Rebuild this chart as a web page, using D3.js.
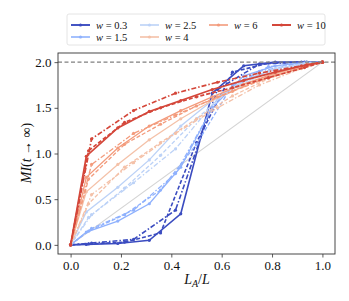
<!DOCTYPE html>
<html><head><meta charset="utf-8">
<script src="https://cdn.jsdelivr.net/npm/d3@7"></script>
<style>body{margin:0;background:#fff}svg{display:block}
svg text{font-family:"Liberation Serif","DejaVu Serif",serif !important;}</style>
</head><body>
<script>
const W = 349, H = 301;
const xTicks = [0, 0.2, 0.4, 0.6, 0.8, 1.0];
const yTicks = [0, 0.5, 1.0, 1.5, 2.0];
const wLabels = ["0.3", "1.5", "2.5", "4", "6", "10"];
const wColors = ["#3b4cc0", "#8fb1fd", "#bcd2f7", "#f4c1a8", "#f39b7c", "#d4473a"];
const wWidths = [1.6, 1.3, 1.3, 1.3, 1.3, 1.7];
// x positions for three system sizes
const xL16 = [0, 1/16, 3/16, 5/16, 7/16, 9/16, 11/16, 13/16, 15/16, 1];
const xL14 = [0, 1/14, 3/14, 5/14, 7/14, 9/14, 11/14, 13/14, 1];
const xL12 = [0, 1/12, 3/12, 5/12, 7/12, 9/12, 11/12, 1];
// MI values, solid (L16)
const yW03_16 = [0, 0.005, 0.015, 0.05, 0.34, 1.66, 1.96, 2.0, 2.0, 2.0];
const yW15_16 = [0, 0.14, 0.26, 0.45, 0.85, 1.5, 1.85, 1.96, 2.0, 2.0];
const yW25_16 = [0, 0.36, 0.63, 0.93, 1.3, 1.58, 1.8, 1.93, 1.99, 2.0];
const yW4_16  = [0, 0.58, 0.88, 1.15, 1.38, 1.58, 1.74, 1.87, 1.97, 2.0];
const yW6_16  = [0, 0.74, 1.06, 1.3, 1.47, 1.62, 1.76, 1.88, 1.97, 2.0];
const yW10_16 = [0, 0.97, 1.28, 1.46, 1.58, 1.70, 1.80, 1.89, 1.97, 2.0];
// dashed (L14)
const yW03_14 = [0, 0.01, 0.03, 0.13, 1.12, 1.89, 1.99, 2.0, 2.0];
const yW15_14 = [0, 0.15, 0.33, 0.6, 1.1, 1.75, 1.95, 1.99, 2.0];
const yW25_14 = [0, 0.3, 0.62, 0.98, 1.38, 1.72, 1.9, 1.98, 2.0];
const yW4_14  = [0, 0.45, 0.85, 1.12, 1.38, 1.63, 1.82, 1.95, 2.0];
const yW6_14  = [0, 0.72, 1.1, 1.32, 1.52, 1.68, 1.83, 1.95, 2.0];
const yW10_14 = [0, 1.03, 1.34, 1.5, 1.62, 1.72, 1.83, 1.94, 2.0];
// dash-dot (L12)
const yW03_12 = [0, 0.02, 0.06, 0.38, 1.7, 1.98, 2.0, 2.0];
const yW15_12 = [0, 0.18, 0.38, 0.78, 1.6, 1.9, 1.99, 2.0];
const yW25_12 = [0, 0.33, 0.68, 1.05, 1.6, 1.85, 1.97, 2.0];
const yW4_12  = [0, 0.55, 0.9, 1.22, 1.5, 1.75, 1.93, 2.0];
const yW6_12  = [0, 0.88, 1.22, 1.42, 1.62, 1.8, 1.94, 2.0];
const yW10_12 = [0, 1.16, 1.47, 1.66, 1.78, 1.88, 1.96, 2.0];

const solid = [yW03_16, yW15_16, yW25_16, yW4_16, yW6_16, yW10_16];
const dashed = [yW03_14, yW15_14, yW25_14, yW4_14, yW6_14, yW10_14];
const dashdot = [yW03_12, yW15_12, yW25_12, yW4_12, yW6_12, yW10_12];

const svg = d3.select("body").append("svg").attr("width", W).attr("height", H);
const L = 58, R = 335, T = 53, B = 254;
const x = d3.scaleLinear().domain([-0.05, 1.05]).range([L, R]);
const y = d3.scaleLinear().domain([-0.1, 2.1]).range([B, T]);

svg.append("defs").append("clipPath").attr("id", "clip")
  .append("rect").attr("x", L).attr("y", T).attr("width", R - L).attr("height", B - T);
const plot = svg.append("g").attr("clip-path", "url(#clip)");

// diagonal
plot.append("line").attr("x1", x(0)).attr("y1", y(0)).attr("x2", x(1)).attr("y2", y(2))
  .attr("stroke", "#d3d3d3").attr("stroke-width", 1.2);

const line = d3.line().x(d => x(d[0])).y(d => y(d[1]));
const styles = [
  {xs: xL16, ys: solid, dash: null},
  {xs: xL14, ys: dashed, dash: "4,2"},
  {xs: xL12, ys: dashdot, dash: "5,2,1.5,2"}
];
wLabels.forEach((lab, i) => {
  styles.forEach(s => {
    const pts = s.xs.map((xv, k) => [xv, s.ys[i][k]]);
    plot.append("path").attr("d", line(pts)).attr("fill", "none")
      .attr("stroke", wColors[i]).attr("stroke-width", wWidths[i])
      .attr("stroke-dasharray", s.dash);
    plot.selectAll(null).data(pts).enter().append("circle")
      .attr("cx", d => x(d[0])).attr("cy", d => y(d[1])).attr("r", 1.6)
      .attr("fill", wColors[i]);
  });
});
// horizontal dashed at 2
plot.append("line").attr("x1", L).attr("x2", R).attr("y1", y(2)).attr("y2", y(2))
  .attr("stroke", "#808080").attr("stroke-width", 1.1).attr("stroke-dasharray", "4,2.5");

// frame
svg.append("rect").attr("x", L).attr("y", T).attr("width", R - L).attr("height", B - T)
  .attr("fill", "none").attr("stroke", "#333").attr("stroke-width", 0.9);

// axes
const xa = svg.append("g").attr("transform", `translate(0,${B})`)
  .call(d3.axisBottom(x).tickValues(xTicks).tickFormat(d3.format(".1f")).tickSize(3.5).tickPadding(3));
const ya = svg.append("g").attr("transform", `translate(${L},0)`)
  .call(d3.axisLeft(y).tickValues(yTicks).tickFormat(d3.format(".1f")).tickSize(3.5).tickPadding(3));
[xa, ya].forEach(a => {
  a.attr("font-family", null);
  a.select(".domain").remove();
  a.selectAll("line").attr("stroke", "#333").attr("stroke-width", 0.8);
  a.selectAll("text").attr("font-size", 13).attr("fill", "#111");
});

// axis labels
const xl = svg.append("text").attr("x", 197).attr("y", 284).attr("text-anchor", "middle")
  .attr("font-size", 14).attr("fill", "#111");
xl.append("tspan").attr("font-style", "italic").text("L");
xl.append("tspan").attr("font-style", "italic").attr("font-size", 10).attr("dy", 3).text("A");
xl.append("tspan").attr("dy", -3).text("/");
xl.append("tspan").attr("font-style", "italic").text("L");

const yl = svg.append("text").attr("transform", "translate(31,153) rotate(-90)").attr("text-anchor", "middle")
  .attr("font-size", 14).attr("fill", "#111");
yl.append("tspan").attr("font-style", "italic").text("MI");
yl.append("tspan").text("(");
yl.append("tspan").attr("font-style", "italic").text("t");
yl.append("tspan").text(" → ∞)");

// legend
const lg = svg.append("g");
lg.append("rect").attr("x", 67).attr("y", 14).attr("width", 258).attr("height", 31)
  .attr("rx", 2).attr("fill", "#fff").attr("stroke", "#ddd").attr("stroke-width", 0.8);
const colX = [71, 140, 209, 272];
const rowY = [25, 37];
wLabels.forEach((lab, i) => {
  const c = i < 2 ? 0 : i < 4 ? 1 : i === 4 ? 2 : 3;
  const r = i < 4 ? i % 2 : 0;
  const gx = colX[c], gy = rowY[r];
  lg.append("line").attr("x1", gx).attr("x2", gx + 19).attr("y1", gy).attr("y2", gy)
    .attr("stroke", wColors[i]).attr("stroke-width", wWidths[i] + 0.3);
  lg.append("circle").attr("cx", gx + 9.5).attr("cy", gy).attr("r", 1.6).attr("fill", wColors[i]);
  const t = lg.append("text").attr("x", gx + 25).attr("y", gy + 3.5)
    .attr("font-size", 10.5).attr("fill", "#111");
  t.append("tspan").attr("font-style", "italic").text("w");
  t.append("tspan").text(" = " + lab);
});
</script>
</body></html>
